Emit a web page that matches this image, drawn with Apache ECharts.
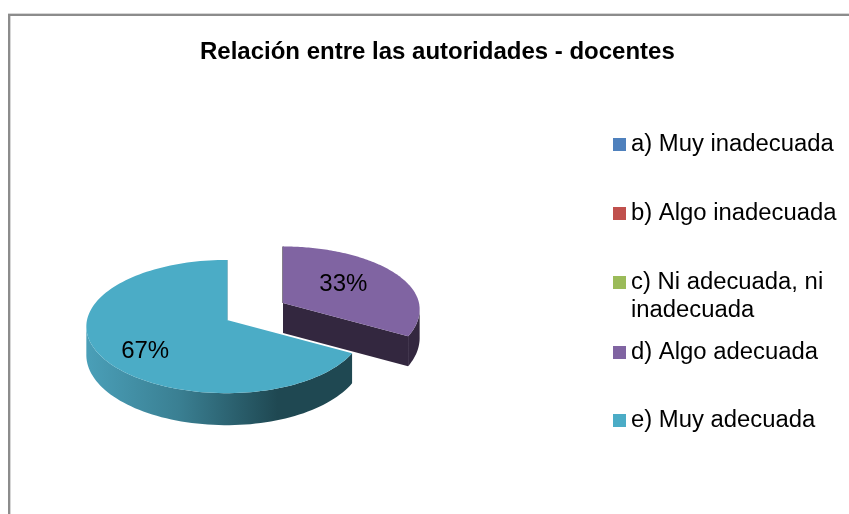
<!DOCTYPE html>
<html>
<head>
<meta charset="utf-8">
<script src="https://cdn.jsdelivr.net/npm/echarts@6/dist/echarts.min.js"></script>
<style>
    html, body { margin: 0; padding: 0; background: #fff; }
    #chart { width: 849px; height: 514px; }
</style>
</head>
<body>
<div id="chart"></div>
<script>
const chartTitle = 'Relación entre las autoridades - docentes'
const categories = ['a) Muy inadecuada', 'b) Algo inadecuada', 'c) Ni adecuada, ni inadecuada', 'd) Algo adecuada', 'e) Muy adecuada']
const percentages = [0, 0, 0, 33, 67]
const colors = ['#4f81bd', '#c0504d', '#9bbb59', '#8064a2', '#4bacc6']

const fontFamily = '"Liberation Sans", Arial, sans-serif'
const total = percentages.reduce((a, b) => a + b, 0)

// fake 3D pie: a circle seen at an angle, back of the pie is a bit compressed
const center = [227, 320]
const radiusLeft = 140
const radiusRight = 136
const tilt = 66
const perspective = 0.098

// per slice tweaks, only d) is pulled out of the pie
const sliceLayout = {
    3: { offset: [56, -17], backScale: 0.94, labelRadius: 0.52, labelShift: [1, -3], side: '#33273f' },
    4: { offset: [0, 0], backScale: 1, labelRadius: 0.68, labelShift: [3, 8] }
}

const project = (angle, r, layout) => {
    const u = Math.sin(angle) * r
    const v = -Math.cos(angle) * r
    const p = 1 / (1 - perspective * v)
    const rx = u > 0 ? radiusRight : radiusLeft
    const ySquash = v < 0 ? layout.backScale : 1
    return [
        center[0] + layout.offset[0] + rx * u * p,
        center[1] + layout.offset[1] + tilt * v * p * ySquash
    ]
}

const depthAt = angle => 28 + 4 * -Math.cos(angle)

const sideGradient = new echarts.graphic.LinearGradient(0, 0, 1, 0, [
    { offset: 0, color: '#4a9fb8' },
    { offset: 0.35, color: '#3a7f92' },
    { offset: 0.72, color: '#1f4852' },
    { offset: 1, color: '#1f4852' }
])

const renderSlice = index => (params, api) => {
    const value = api.value(0)
    if (!value) return { type: 'group', children: [] }

    const layout = sliceLayout[index]
    const before = percentages.slice(0, index).reduce((a, b) => a + b, 0)
    const start = before / total * Math.PI * 2
    const end = (before + value) / total * Math.PI * 2
    const apex = project(0, 0, layout)

    const arc = []
    const steps = 120
    for (let i = 0; i <= steps; i++) {
        const angle = start + (end - start) * i / steps
        arc.push({ angle, point: project(angle, 1, layout) })
    }

    const children = []

    // outer wall, only the part that faces the viewer
    const front = arc.filter(a => -Math.cos(a.angle) >= perspective - 0.02)
    if (front.length > 1) {
        const lower = front.map(a => [a.point[0], a.point[1] + depthAt(a.angle)]).reverse()
        children.push({
            type: 'polygon',
            shape: { points: front.map(a => a.point).concat(lower) },
            style: { fill: layout.side || sideGradient }
        })
    }

    // cut wall when the end of the slice turns towards the viewer
    if (Math.sin(end) > 0.01) {
        const corner = project(end, 1, layout)
        children.push({
            type: 'polygon',
            shape: { points: [apex, corner, [corner[0], corner[1] + depthAt(end)], [apex[0], apex[1] + depthAt(end)]] },
            style: { fill: layout.side || '#1f4852' }
        })
    }

    // thin edge left by the wall at 12 o'clock
    const noon = project(0, 1, layout)
    children.push({
        type: 'line',
        shape: { x1: apex[0], y1: apex[1], x2: noon[0], y2: noon[1] },
        style: { stroke: layout.side || '#3b8ba1', lineWidth: 1.2 }
    })

    children.push({
        type: 'polygon',
        shape: { points: [apex].concat(arc.map(a => a.point)) },
        style: { fill: colors[index] }
    })

    const labelPoint = project((start + end) / 2, layout.labelRadius, layout)
    children.push({
        type: 'text',
        style: {
            text: Math.round(value / total * 100) + '%',
            x: labelPoint[0] + layout.labelShift[0],
            y: labelPoint[1] + layout.labelShift[1],
            align: 'center',
            verticalAlign: 'middle',
            fill: '#000',
            fontFamily,
            fontSize: 24
        }
    })

    return { type: 'group', children }
}

// legend rows are placed one by one, the wrapped one keeps its marker on the first line
const legendRowY = [143, 212, 281, 351, 419]
const legendLines = [1, 1, 3, 1, 1]
const legendLineHeight = 28

const chart = echarts.init(document.getElementById('chart'))
chart.setOption({
    animation: false,
    backgroundColor: '#fff',
    title: {
        text: chartTitle,
        left: 200,
        top: 40,
        padding: 0,
        textStyle: { fontFamily, fontSize: 24, fontWeight: 'bold', color: '#000' }
    },
    tooltip: { show: false },
    legend: categories.map((name, i) => ({
        data: [name],
        orient: 'vertical',
        left: 613,
        top: legendRowY[i] - legendLines[i] * legendLineHeight / 2,
        padding: 0,
        icon: 'rect',
        itemWidth: 13,
        itemHeight: 13,
        selectedMode: false,
        formatter: n => n === categories[2] ? '\nc) Ni adecuada, ni\ninadecuada' : n,
        textStyle: { fontFamily, fontSize: 23.85, color: '#000', lineHeight: legendLineHeight, padding: [3, 0, 0, 0] }
    })),
    graphic: [
        {
            type: 'polyline',
            silent: true,
            shape: { points: [[9.5, 514], [9.5, 14.5], [849, 14.5]] },
            style: { stroke: '#d6d6d6', lineWidth: 3, fill: null }
        },
        {
            type: 'polyline',
            silent: true,
            shape: { points: [[9, 514], [9, 15], [849, 15]] },
            style: { stroke: '#8c8c8c', lineWidth: 2, fill: null }
        }
    ],
    series: categories.map((name, i) => ({
        type: 'custom',
        name,
        coordinateSystem: 'none',
        silent: true,
        itemStyle: { color: colors[i] },
        data: [[percentages[i]]],
        renderItem: renderSlice(i)
    }))
})
</script>
</body>
</html>
